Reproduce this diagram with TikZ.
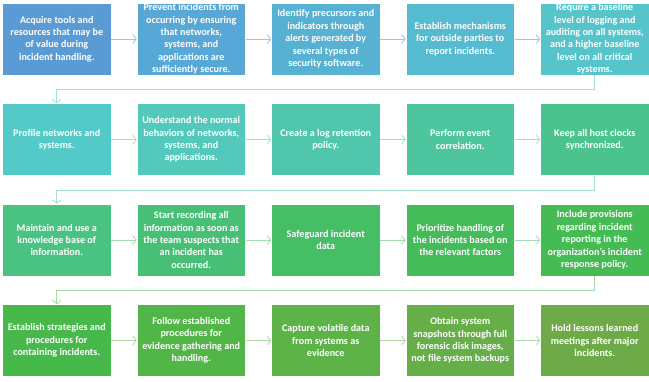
\documentclass[tikz,border=0pt]{standalone}
\usepackage{fontspec}
\setmainfont{Carlito}
\usepackage{xcolor}
\usepackage{tikz}
\usetikzlibrary{arrows.meta,positioning,calc}

\definecolor{ca1}{HTML}{5B9BD5}
\definecolor{ca2}{HTML}{57A8D6}
\definecolor{ca3}{HTML}{56B1D2}
\definecolor{ca4}{HTML}{55BBD0}
\definecolor{ca5}{HTML}{55C5CB}
\definecolor{cb1}{HTML}{53CAC8}
\definecolor{cb2}{HTML}{52C9BA}
\definecolor{cb3}{HTML}{50C7AC}
\definecolor{cb4}{HTML}{4DC59E}
\definecolor{cb5}{HTML}{4AC38F}
\definecolor{cc1}{HTML}{49C282}
\definecolor{cc2}{HTML}{47C076}
\definecolor{cc3}{HTML}{45BE66}
\definecolor{cc4}{HTML}{44BC5A}
\definecolor{cc5}{HTML}{45BB54}
\definecolor{cd1}{HTML}{47B84A}
\definecolor{cd2}{HTML}{52B548}
\definecolor{cd3}{HTML}{5DB348}
\definecolor{cd4}{HTML}{66AE47}
\definecolor{cd5}{HTML}{6FAA48}
\definecolor{la}{HTML}{9DC3E6}
\definecolor{lab}{HTML}{9FDFDC}
\definecolor{lb}{HTML}{A2E0D2}
\definecolor{lbc}{HTML}{A5E0C8}
\definecolor{lc}{HTML}{A3DDB3}
\definecolor{lcd}{HTML}{A6DBA8}
\definecolor{ld}{HTML}{B0D8A4}

\begin{document}
\begin{tikzpicture}[node distance=134.5pt,
  stepbox/.style={draw=white, line width=0.6pt, fill=#1, text=white,
    minimum width=108.5pt, minimum height=72pt, inner sep=0pt, align=center,
    font=\bfseries\fontsize{10.1}{12.4}\selectfont},
  link/.style={draw=#1, line width=0.8pt, -{Straight Barb[length=3.5pt,width=9pt]}}]
\useasboundingbox (0,0) rectangle (649pt,-381pt);
% row 1
\node[stepbox=ca1] (a1) at (56.75pt,-39pt) {Acquire tools and\\resources that may be\\of value during\\incident handling.};
\node[stepbox=ca2, right of=a1] (a2) {Prevent incidents from\\occurring by ensuring\\that networks,\\systems, and\\applications are\\sufficiently secure.};
\node[stepbox=ca3, right of=a2] (a3) {Identify precursors and\\indicators through\\alerts generated by\\several types of\\security software.};
\node[stepbox=ca4, right of=a3] (a4) {Establish mechanisms\\for outside parties to\\report incidents.};
\node[stepbox=ca5, right of=a4] (a5) {Require a baseline\\level of logging and\\auditing on all systems,\\and a higher baseline\\level on all critical\\systems.};
% row 2
\node[stepbox=cb1, below of=a1, node distance=100.5pt] (b1) {Profile networks and\\systems.};
\node[stepbox=cb2, right of=b1] (b2) {Understand the normal\\behaviors of networks,\\systems, and\\applications.};
\node[stepbox=cb3, right of=b2] (b3) {Create a log retention\\policy.};
\node[stepbox=cb4, right of=b3] (b4) {Perform event\\correlation.};
\node[stepbox=cb5, right of=b4] (b5) {Keep all host clocks\\synchronized.};
% row 3
\node[stepbox=cc1, below of=b1, node distance=100.5pt] (c1) {Maintain and use a\\knowledge base of\\information.};
\node[stepbox=cc2, right of=c1] (c2) {Start recording all\\information as soon as\\the team suspects that\\an incident has\\occurred.};
\node[stepbox=cc3, right of=c2] (c3) {Safeguard incident\\data};
\node[stepbox=cc4, right of=c3] (c4) {Prioritize handling of\\the incidents based on\\the relevant factors};
\node[stepbox=cc5, right of=c4] (c5) {Include provisions\\regarding incident\\reporting in the\\organization’s incident\\response policy.};
% row 4
\node[stepbox=cd1, below of=c1, node distance=100.5pt] (d1) {Establish strategies and\\procedures for\\containing incidents.};
\node[stepbox=cd2, right of=d1] (d2) {Follow established\\procedures for\\evidence gathering and\\handling.};
\node[stepbox=cd3, right of=d2] (d3) {Capture volatile data\\from systems as\\evidence};
\node[stepbox=cd4, right of=d3] (d4) {Obtain system\\snapshots through full\\forensic disk images,\\not file system backups};
\node[stepbox=cd5, right of=d4] (d5) {Hold lessons learned\\meetings after major\\incidents.};
% arrows in rows
\draw[link=la] (a1) -- (a2);
\draw[link=la] (a2) -- (a3);
\draw[link=la] (a3) -- (a4);
\draw[link=la] (a4) -- (a5);
\draw[link=lb] (b1) -- (b2);
\draw[link=lb] (b2) -- (b3);
\draw[link=lb] (b3) -- (b4);
\draw[link=lb] (b4) -- (b5);
\draw[link=lc] (c1) -- (c2);
\draw[link=lc] (c2) -- (c3);
\draw[link=lc] (c3) -- (c4);
\draw[link=lc] (c4) -- (c5);
\draw[link=ld] (d1) -- (d2);
\draw[link=ld] (d2) -- (d3);
\draw[link=ld] (d3) -- (d4);
\draw[link=ld] (d4) -- (d5);
% row to row
\draw[link=lab] (a5.south) -- ++(0,-14.25pt) -| (b1.north);
\draw[link=lbc] (b5.south) -- ++(0,-14.25pt) -| (c1.north);
\draw[link=lcd] (c5.south) -- ++(0,-14.25pt) -| (d1.north);
\end{tikzpicture}
\end{document}
